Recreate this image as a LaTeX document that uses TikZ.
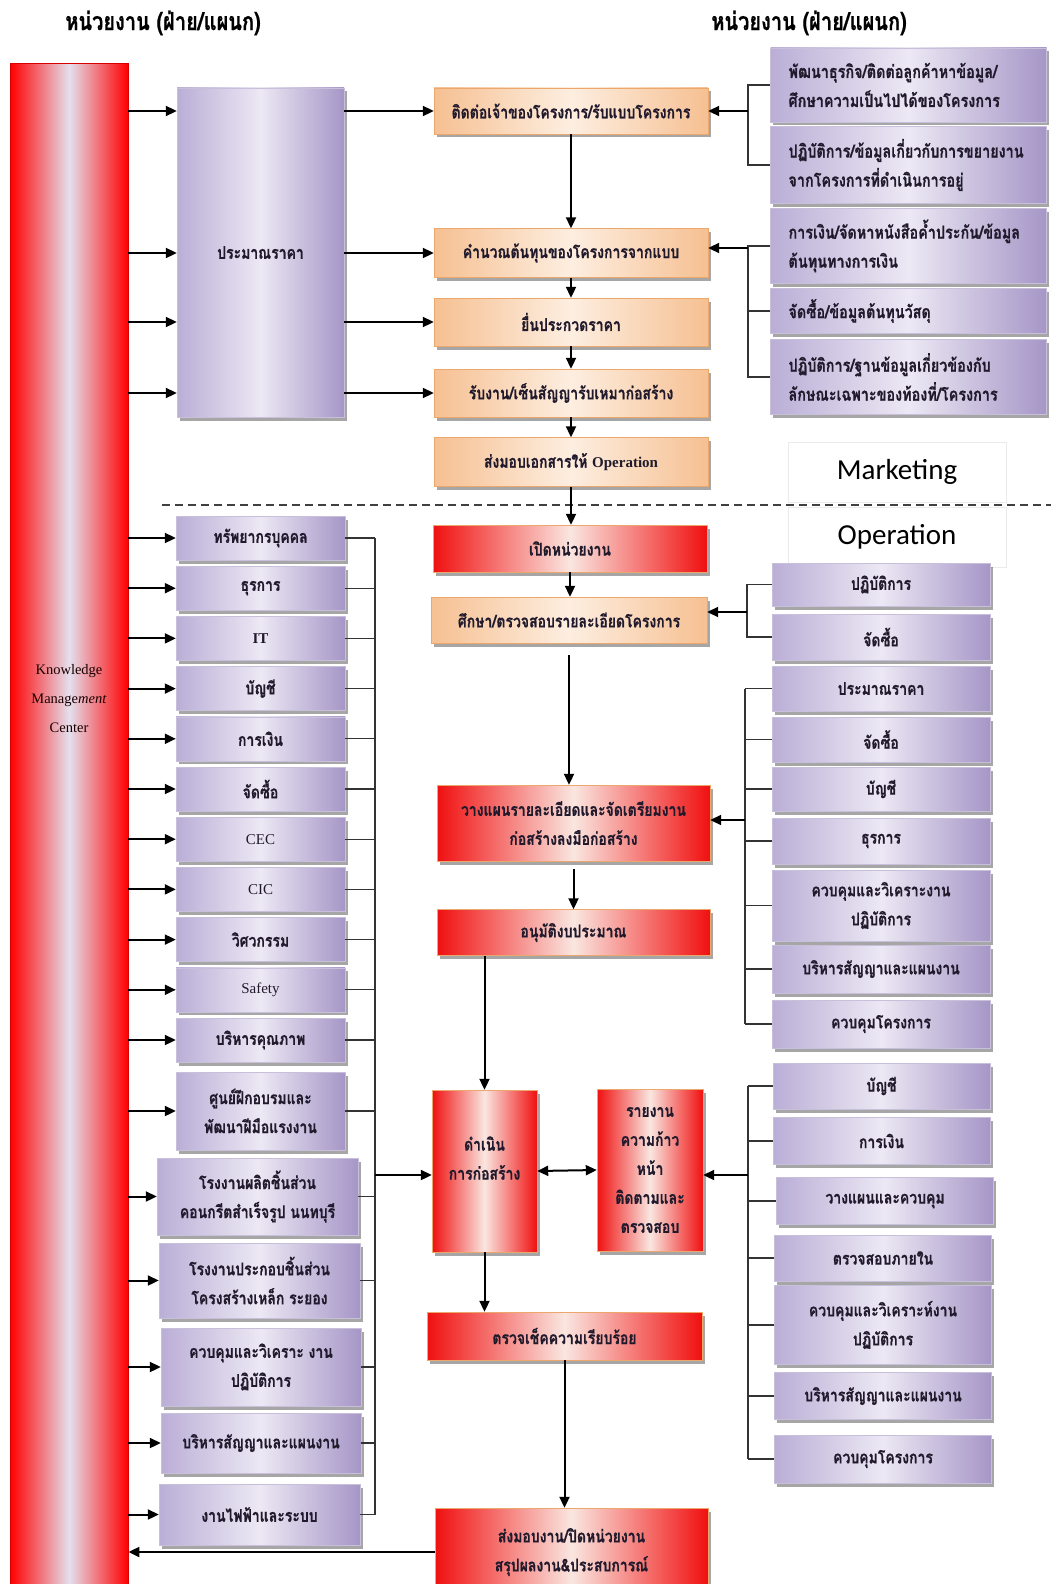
\documentclass[tikz,border=0pt]{standalone}
\usepackage{fontspec}
\setmainfont{Liberation Serif}
\newfontfamily\thai[Script=Thai,FakeStretch=0.8,FakeBold=0.6]{Loma}
\newfontfamily\calib{Carlito}
\usetikzlibrary{arrows.meta,shadows}

\definecolor{purL}{RGB}{186,174,214}
\definecolor{purR}{RGB}{166,150,199}
\definecolor{purM}{RGB}{236,232,244}
\definecolor{purB}{RGB}{200,192,218}
\definecolor{orgE}{RGB}{246,192,146}
\definecolor{orgM}{RGB}{253,238,224}
\definecolor{orgB}{RGB}{236,168,108}
\definecolor{redE}{RGB}{240,16,16}
\definecolor{redM}{RGB}{250,230,224}
\definecolor{kmM}{RGB}{228,224,238}
\definecolor{ink}{RGB}{32,26,44}

\newcommand\latin[1]{{\normalfont\fontsize{15}{29}\selectfont #1}}

\tikzset{
  wh/.style 2 args={minimum width=#1, minimum height=#2},
  shd/.style={drop shadow={shadow xshift=2.5pt, shadow yshift=-3.5pt, fill=black, opacity=0.35}},
  base/.style={inner sep=2pt, align=center, text=ink,
    font=\thai\bfseries\fontsize{17.5}{29}\selectfont},
  pbox/.style={base, shd, draw=purB, left color=purL, right color=purR, middle color=purM},
  obox/.style={base, shd, draw=orgB, left color=orgE, right color=orgE, middle color=orgM},
  rbox/.style={base, shd, draw=orgB, left color=redE, right color=redE, middle color=redM},
  ltext/.style={align=left, text width=240pt, inner xsep=17pt,
    font=\thai\bfseries\fontsize{18}{29}\selectfont},
  hdr/.style={text=black, font=\thai\bfseries\fontsize{25}{28}\selectfont},
  arr/.style={line width=2pt, -{Triangle[length=11pt,width=10pt]}},
  arrb/.style={line width=2pt, {Triangle[length=11pt,width=10pt]}-{Triangle[length=11pt,width=10pt]}},
  brk/.style={line width=1.1pt, black!80},
  sect/.style={draw=black!8, wh={218pt}{60pt}, text=black, font=\calib\fontsize{29}{32}\selectfont}
}

\begin{document}
\begin{tikzpicture}[x=1pt,y=-1pt]
\useasboundingbox[fill=white] (0,0) rectangle (1055,1584);

% column headings
\node[hdr] (hl) at (163,23) {หน่วยงาน (ฝ่าย/แผนก)};
\node[hdr] (hr) at (809,23) {หน่วยงาน (ฝ่าย/แผนก)};

% knowledge management bar
\node[draw=red!85!black, left color=red, right color=red, middle color=kmM,
      wh={118pt}{1535pt}, anchor=north west, inner sep=0pt] (km) at (10,63) {};
\node[align=center, text=black!75!red!40!black, font=\fontsize{14.5}{29}\selectfont]
  (kmt) at (69,699) {Knowledge\\Manage\textit{ment}\\Center};

% ---------------- marketing ----------------
\node[pbox, wh={167pt}{329pt}] (pm) at (260.5,252.5) {ประมาณราคา};

\node[obox, wh={274pt}{46pt}] (m1) at (571,111) {ติดต่อเจ้าของโครงการ/รับแบบโครงการ};
\node[obox, wh={274pt}{49pt}] (m2) at (571,253) {คำนวณต้นทุนของโครงการจากแบบ};
\node[obox, wh={274pt}{48pt}] (m3) at (571,322) {ยื่นประกวดราคา};
\node[obox, wh={274pt}{48pt}] (m4) at (571,393) {รับงาน/เซ็นสัญญารับเหมาก่อสร้าง};
\node[obox, wh={274pt}{49pt}] (m5) at (571,462) {ส่งมอบเอกสารให้ \latin{\bfseries Operation}};

\node[pbox, ltext, wh={276pt}{74pt}] (r1) at (908.5,85)
  {พัฒนาธุรกิจ/ติดต่อลูกค้าหาข้อมูล/\\ศึกษาความเป็นไปได้ของโครงการ};
\node[pbox, ltext, wh={276pt}{77pt}] (r2) at (908.5,165)
  {ปฏิบัติการ/ข้อมูลเกี่ยวกับการขยายงาน\\จากโครงการที่ดำเนินการอยู่};
\node[pbox, ltext, wh={276pt}{75pt}] (r3) at (908.5,246)
  {การเงิน/จัดหาหนังสือค้ำประกัน/ข้อมูล\\ต้นทุนทางการเงิน};
\node[pbox, ltext, wh={276pt}{45pt}] (r4) at (908.5,311) {จัดซื้อ/ข้อมูลต้นทุนวัสดุ};
\node[pbox, ltext, wh={276pt}{75pt}] (r5) at (908.5,377)
  {ปฏิบัติการ/ฐานข้อมูลเกี่ยวข้องกับ\\ลักษณะเฉพาะของท้องที่/โครงการ};

\foreach \m in {m1,m2,m3,m4}{
  \draw[arr] (km.east |- \m.west) -- (pm.west |- \m.west);
  \draw[arr] (pm.east |- \m.west) -- (\m.west);
}
\draw[arr] (m1.south) -- (m2.north);
\draw[arr] (m2.south) -- (m3.north);
\draw[arr] (m3.south) -- (m4.north);
\draw[arr] (m4.south) -- (m5.north);

\coordinate (jr1) at (748,111);
\coordinate (jr2) at (748,248);
\draw[brk] (r1.west) -- (r1.west -| jr1) -- (r2.west -| jr1) -- (r2.west);
\draw[arr] (jr1) -- (jr1 -| m1.east);
\draw[brk] (r3.west) -- (r3.west -| jr2) -- (r5.west -| jr2) -- (r5.west);
\draw[brk] (r4.west) -- (r4.west -| jr2);
\draw[arr] (jr2) -- (jr2 -| m2.east);

% section divider
\node[sect] (mk) at (897,472) {Marketing};
\node[sect] (op) at (897,537) {Operation};
\coordinate (dl) at (162,505);
\coordinate (dr) at (1051,505);
\draw[black!75, line width=1.2pt, dash pattern=on 8pt off 5pt] (dl) -- (dr);

% ---------------- operation ----------------
\node[rbox, wh={274pt}{47pt}] (o1) at (570,548.5) {เปิดหน่วยงาน};
\node[obox, wh={276pt}{46pt}] (o2) at (569,620) {ศึกษา/ตรวจสอบรายละเอียดโครงการ};
\node[rbox, wh={273pt}{76pt}] (o3) at (573.5,823) {วางแผนรายละเอียดและจัดเตรียมงาน\\ก่อสร้างลงมือก่อสร้าง};
\node[rbox, wh={273pt}{46pt}] (o4) at (573.5,932.5) {อนุมัติงบประมาณ};
\node[rbox, wh={105pt}{162pt}] (o5) at (484.5,1171) {ดำเนิน\\การก่อสร้าง\\[-3pt]};
\node[rbox, wh={106pt}{162pt}] (o6) at (650,1170) {รายงาน\\ความก้าว\\หน้า\\ติดตามและ\\ตรวจสอบ};
\node[rbox, wh={275pt}{48pt}] (o7) at (564.5,1336) {ตรวจเช็คความเรียบร้อย};
\node[rbox, wh={273pt}{88pt}] (o8) at (571.5,1552) {ส่งมอบงาน/ปิดหน่วยงาน\\สรุปผลงาน\&ประสบการณ์};

\draw[arr] (m5.south) -- (m5.south |- o1.north);
\draw[arr] (o1.south) -- (o1.south |- o2.north);
\draw[arr] ([yshift=-12pt]o2.south) -- (o2.south |- o3.north);
\draw[arr] ([yshift=-8pt]o3.south) -- (o3.south |- o4.north);
\draw[arr] (o5.north |- o4.south) -- (o5.north);
\draw[arrb] (o5.east) -- (o6.west);
\draw[arr] (o5.south) -- (o5.south |- o7.north);
\draw[arr] (o7.south) -- (o7.south |- o8.north);
\draw[arr] (o8.west) -- (km.east |- o8.west);

% left departments
\foreach \n/\y/\t in {1/538/{ทรัพยากรบุคคล}, 2/588.2/{ธุรการ}, 3/638.4/{\latin{\bfseries IT}},
  4/688.6/{บัญชี}, 5/738.8/{การเงิน}, 6/789/{จัดซื้อ}, 7/839.2/{\latin{CEC}},
  8/889.4/{\latin{CIC}}, 9/939.6/{วิศวกรรม}, 10/989.8/{\latin{Safety}}, 11/1040/{บริหารคุณภาพ}}{
  \node[pbox, wh={169pt}{44pt}] (b\n) at (260.5,\y) {\t};
}
\node[pbox, wh={169pt}{78pt}] (b12) at (260.5,1111) {ศูนย์ฝึกอบรมและ\\พัฒนาฝีมือแรงงาน};
\node[pbox, wh={201pt}{77pt}] (b13) at (257.5,1196.5) {โรงงานผลิตชิ้นส่วน\\คอนกรีตสำเร็จรูป นนทบุรี};
\node[pbox, wh={201pt}{75pt}] (b14) at (259.5,1280.5) {โรงงานประกอบชิ้นส่วน\\โครงสร้างเหล็ก ระยอง};
\node[pbox, wh={200pt}{78pt}] (b15) at (261,1367) {ควบคุมและวิเคราะ งาน\\ปฏิบัติการ};
\node[pbox, wh={200pt}{60pt}] (b16) at (261,1443) {บริหารสัญญาและแผนงาน};
\node[pbox, wh={201pt}{61pt}] (b17) at (259.5,1514.5) {งานไฟฟ้าและระบบ};

\coordinate (jl) at (375,1175);
\foreach \n in {1,...,17}{
  \draw[arr] (km.east |- b\n.west) -- (b\n.west);
  \draw[brk] (b\n.east) -- (b\n.east -| jl);
}
\draw[brk] (b1.east -| jl) -- (b17.east -| jl);
\draw[arr] (jl) -- (jl -| o5.west);

% right departments, study stage
\node[pbox, wh={218pt}{43pt}] (ra1) at (881,584.5) {ปฏิบัติการ};
\node[pbox, wh={218pt}{46pt}] (ra2) at (881,637) {จัดซื้อ};
\coordinate (ja) at (747,612);
\draw[brk] (ra1.west) -- (ra1.west -| ja) -- (ra2.west -| ja) -- (ra2.west);
\draw[arr] (ja) -- (ja -| o2.east);

% right departments, planning stage
\node[pbox, wh={218pt}{45pt}] (rb1) at (881,688.5) {ประมาณราคา};
\node[pbox, wh={218pt}{45pt}] (rb2) at (881,739.5) {จัดซื้อ};
\node[pbox, wh={218pt}{44pt}] (rb3) at (881,789) {บัญชี};
\node[pbox, wh={218pt}{46pt}] (rb4) at (881,841) {ธุรการ};
\node[pbox, wh={218pt}{71pt}] (rb5) at (881,905.5) {ควบคุมและวิเคราะงาน\\ปฏิบัติการ};
\node[pbox, wh={218pt}{48pt}] (rb6) at (881,969) {บริหารสัญญาและแผนงาน};
\node[pbox, wh={218pt}{48pt}] (rb7) at (881,1024) {ควบคุมโครงการ};
\coordinate (jb) at (745,820);
\foreach \n in {1,...,7}{ \draw[brk] (rb\n.west) -- (rb\n.west -| jb); }
\draw[brk] (rb1.west -| jb) -- (rb7.west -| jb);
\draw[arr] (jb) -- (jb -| o3.east);

% right departments, construction stage
\node[pbox, wh={217pt}{46pt}] (rc1) at (881.5,1086) {บัญชี};
\node[pbox, wh={217pt}{47pt}] (rc2) at (881.5,1141) {การเงิน};
\node[pbox, wh={217pt}{47pt}] (rc3) at (885,1201) {วางแผนและควบคุม};
\node[pbox, wh={217pt}{46pt}] (rc4) at (883,1258) {ตรวจสอบภายใน};
\node[pbox, wh={217pt}{79pt}] (rc5) at (883,1325) {ควบคุมและวิเคราะห์งาน\\ปฏิบัติการ};
\node[pbox, wh={217pt}{47pt}] (rc6) at (883,1396) {บริหารสัญญาและแผนงาน};
\node[pbox, wh={217pt}{48pt}] (rc7) at (883,1459) {ควบคุมโครงการ};
\coordinate (jc) at (748,1175);
\foreach \n in {1,...,7}{ \draw[brk] (rc\n.west) -- (rc\n.west -| jc); }
\draw[brk] (rc1.west -| jc) -- (rc7.west -| jc);
\draw[arr] (jc) -- (jc -| o6.east);

\end{tikzpicture}
\end{document}
